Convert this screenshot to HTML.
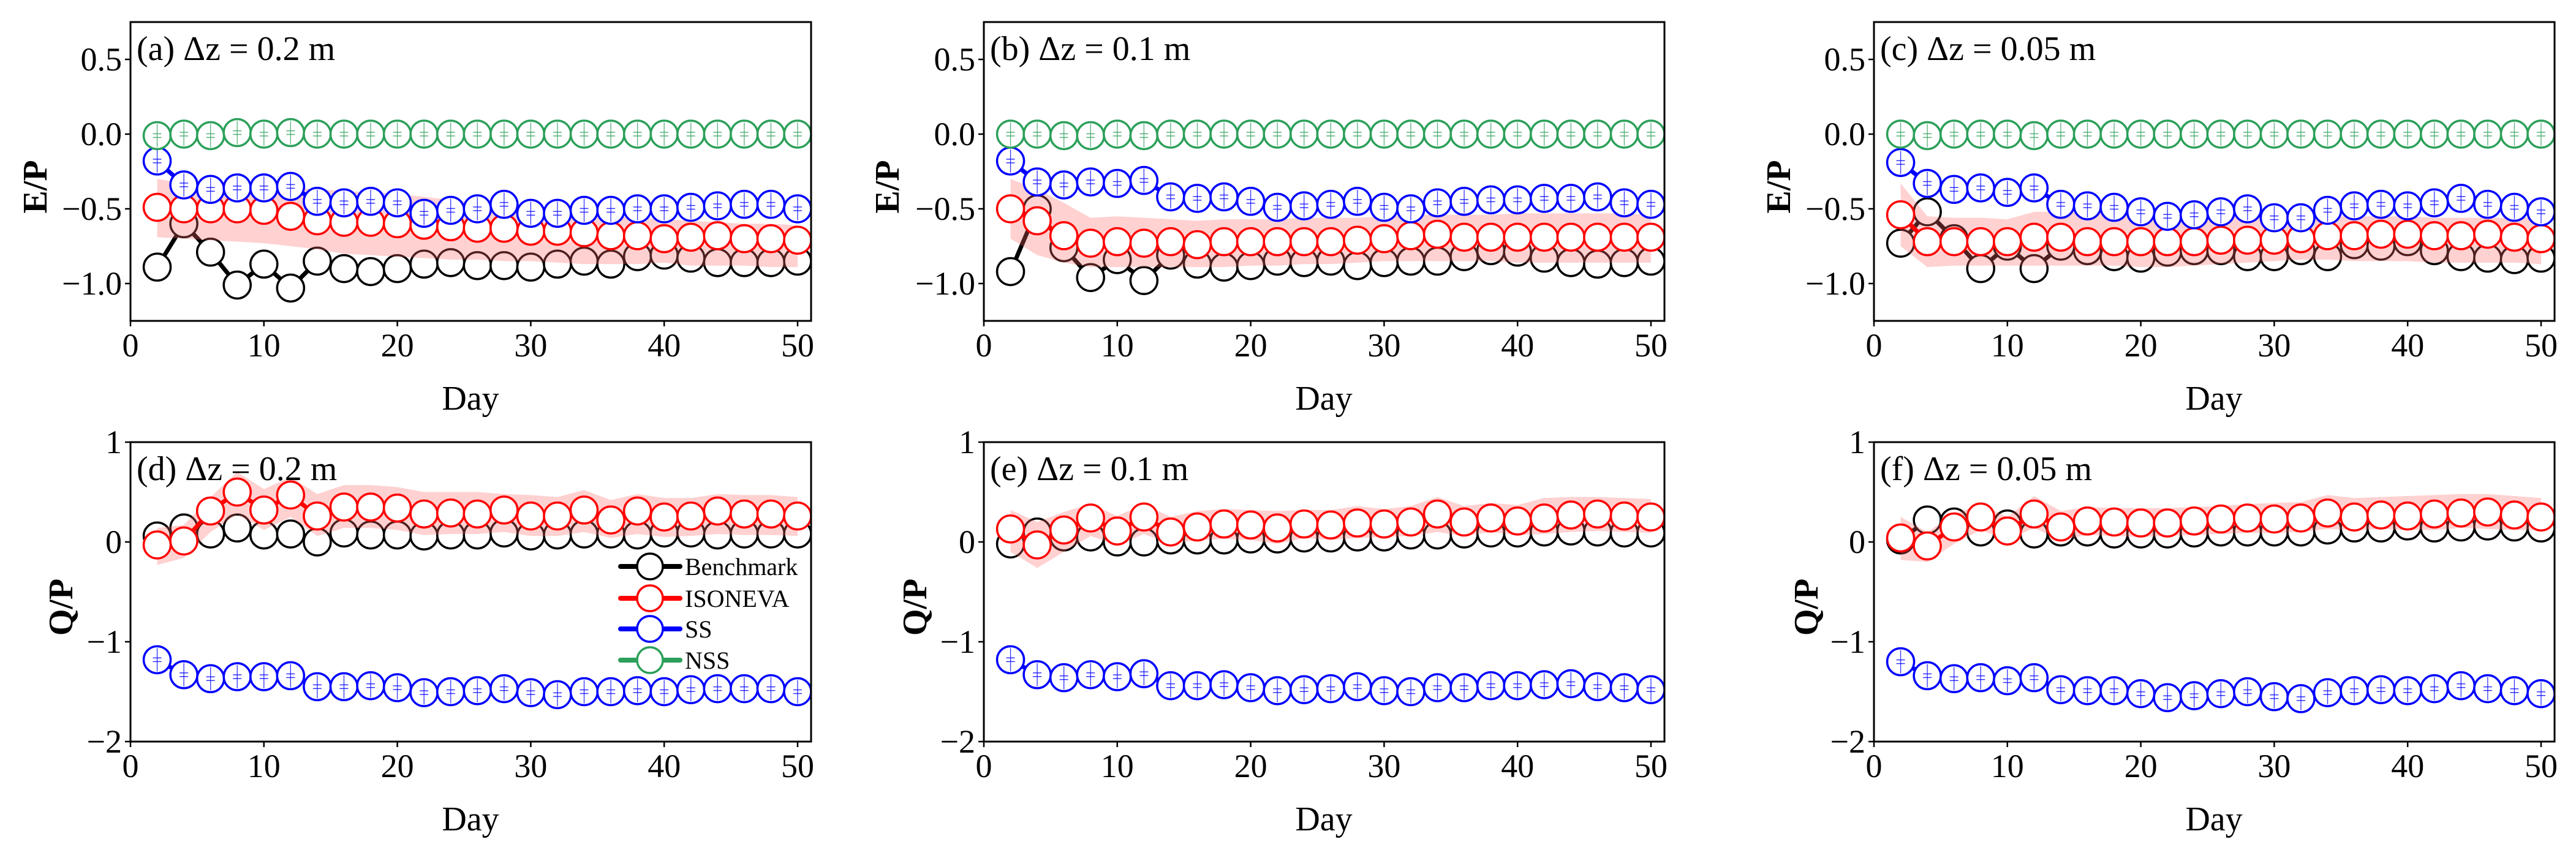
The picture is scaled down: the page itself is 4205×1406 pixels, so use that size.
<!DOCTYPE html>
<html><head><meta charset="utf-8">
<style>
html,body{margin:0;padding:0;background:#fff;}
svg, svg text{font-family:"Liberation Serif","DejaVu Serif","Times New Roman",serif;}
</style></head>
<body>
<svg id="fig" width="4205" height="1401" viewBox="0 0 4205 1401" xmlns="http://www.w3.org/2000/svg" font-family="Liberation Serif, DejaVu Serif, serif"></svg>
<script>
const days = [2,4,6,8,10,12,14,16,18,20,22,24,26,28,30,32,34,36,38,40,42,44,46,48,50];
const xTicks = [0,10,20,30,40,50];
const yTicksTop = [0.5,0.0,-0.5,-1.0];
const yTickLabelsTop = ["0.5","0.0","\u22120.5","\u22121.0"];
const yTicksBot = [1,0,-1,-2];
const yTickLabelsBot = ["1","0","\u22121","\u22122"];
const titles = ["(a) \u0394z = 0.2 m","(b) \u0394z = 0.1 m","(c) \u0394z = 0.05 m","(d) \u0394z = 0.2 m","(e) \u0394z = 0.1 m","(f) \u0394z = 0.05 m"];

// (a) E/P dz=0.2
const bmA = [-0.89,-0.60,-0.79,-1.01,-0.87,-1.03,-0.85,-0.90,-0.92,-0.90,-0.87,-0.86,-0.88,-0.88,-0.89,-0.87,-0.85,-0.87,-0.82,-0.81,-0.83,-0.86,-0.86,-0.86,-0.85];
const isoA = [-0.49,-0.50,-0.50,-0.50,-0.51,-0.55,-0.58,-0.59,-0.59,-0.60,-0.61,-0.62,-0.63,-0.63,-0.65,-0.65,-0.66,-0.68,-0.68,-0.70,-0.69,-0.68,-0.70,-0.70,-0.71];
const isoUpA = [-0.30,-0.33,-0.34,-0.35,-0.35,-0.36,-0.37,-0.38,-0.39,-0.40,-0.42,-0.44,-0.46,-0.48,-0.50,-0.52,-0.54,-0.55,-0.56,-0.57,-0.58,-0.59,-0.60,-0.60,-0.61];
const isoLoA = [-0.69,-0.70,-0.71,-0.72,-0.73,-0.75,-0.77,-0.80,-0.81,-0.82,-0.83,-0.84,-0.84,-0.85,-0.85,-0.86,-0.87,-0.87,-0.87,-0.86,-0.88,-0.88,-0.88,-0.89,-0.89];
const ssA = [-0.18,-0.34,-0.37,-0.36,-0.36,-0.35,-0.45,-0.46,-0.45,-0.46,-0.53,-0.51,-0.50,-0.47,-0.53,-0.53,-0.51,-0.51,-0.50,-0.50,-0.49,-0.48,-0.47,-0.47,-0.50];
const nssA = [-0.01,0.00,-0.01,0.01,0.00,0.01,0.00,0.00,0.00,0.00,0.00,0.00,0.00,0.00,0.00,0.00,0.00,0.00,0.00,0.00,0.00,0.00,0.00,0.00,0.00];
// (b) E/P dz=0.1
const bmB = [-0.92,-0.50,-0.76,-0.96,-0.84,-0.98,-0.81,-0.87,-0.89,-0.88,-0.85,-0.86,-0.85,-0.88,-0.86,-0.85,-0.85,-0.82,-0.78,-0.79,-0.83,-0.86,-0.87,-0.86,-0.85];
const isoB = [-0.50,-0.58,-0.68,-0.73,-0.72,-0.73,-0.72,-0.74,-0.72,-0.72,-0.72,-0.72,-0.72,-0.71,-0.70,-0.68,-0.67,-0.69,-0.69,-0.69,-0.69,-0.69,-0.69,-0.69,-0.69];
const isoUpB = [-0.30,-0.37,-0.46,-0.56,-0.55,-0.56,-0.57,-0.58,-0.57,-0.57,-0.57,-0.56,-0.56,-0.56,-0.55,-0.54,-0.54,-0.54,-0.54,-0.53,-0.53,-0.53,-0.53,-0.53,-0.54];
const isoLoB = [-0.70,-0.81,-0.86,-0.89,-0.89,-0.89,-0.89,-0.89,-0.89,-0.88,-0.88,-0.87,-0.87,-0.86,-0.85,-0.85,-0.85,-0.85,-0.85,-0.86,-0.86,-0.86,-0.86,-0.86,-0.86];
const ssB = [-0.18,-0.32,-0.34,-0.32,-0.33,-0.31,-0.42,-0.43,-0.42,-0.45,-0.49,-0.48,-0.47,-0.45,-0.49,-0.50,-0.46,-0.45,-0.44,-0.44,-0.43,-0.43,-0.42,-0.46,-0.47];
const nssB = [0.00,0.00,-0.01,-0.01,0.00,-0.01,0.00,0.00,0.00,0.00,0.00,0.00,0.00,0.00,0.00,0.00,0.00,0.00,0.00,0.00,0.00,0.00,0.00,0.00,0.00];
// (c) E/P dz=0.05
const bmC = [-0.73,-0.52,-0.70,-0.90,-0.75,-0.90,-0.75,-0.78,-0.82,-0.83,-0.79,-0.78,-0.78,-0.82,-0.82,-0.78,-0.82,-0.74,-0.75,-0.72,-0.78,-0.82,-0.83,-0.84,-0.83];
const isoC = [-0.54,-0.72,-0.72,-0.72,-0.72,-0.69,-0.69,-0.72,-0.72,-0.72,-0.72,-0.72,-0.71,-0.71,-0.71,-0.70,-0.68,-0.68,-0.67,-0.67,-0.68,-0.68,-0.67,-0.69,-0.70];
const isoUpC = [-0.33,-0.55,-0.56,-0.56,-0.57,-0.52,-0.52,-0.52,-0.52,-0.52,-0.53,-0.53,-0.53,-0.54,-0.55,-0.55,-0.55,-0.55,-0.55,-0.55,-0.56,-0.56,-0.56,-0.56,-0.56];
const isoLoC = [-0.75,-0.89,-0.88,-0.88,-0.88,-0.88,-0.88,-0.88,-0.88,-0.89,-0.89,-0.88,-0.87,-0.86,-0.85,-0.84,-0.84,-0.85,-0.85,-0.85,-0.86,-0.86,-0.86,-0.86,-0.87];
const ssC = [-0.19,-0.33,-0.37,-0.36,-0.39,-0.36,-0.47,-0.48,-0.49,-0.52,-0.55,-0.54,-0.52,-0.50,-0.56,-0.56,-0.51,-0.48,-0.47,-0.48,-0.46,-0.43,-0.47,-0.49,-0.52];
const nssC = [0.00,-0.01,0.00,0.00,0.00,-0.01,0.00,0.00,0.00,0.00,0.00,0.00,0.00,0.00,0.00,0.00,0.00,0.00,0.00,0.00,0.00,0.00,0.00,0.00,0.00];
// (d) Q/P dz=0.2
const bmD = [0.06,0.14,0.08,0.14,0.07,0.08,0.00,0.09,0.07,0.07,0.06,0.07,0.07,0.09,0.06,0.07,0.08,0.08,0.07,0.09,0.09,0.07,0.08,0.08,0.08];
const isoD = [-0.03,0.01,0.31,0.50,0.32,0.47,0.26,0.35,0.35,0.34,0.28,0.29,0.28,0.32,0.26,0.26,0.32,0.22,0.31,0.25,0.26,0.31,0.28,0.28,0.26];
const isoUpD = [0.14,0.17,0.45,0.70,0.53,0.65,0.48,0.57,0.57,0.55,0.50,0.50,0.50,0.48,0.47,0.45,0.52,0.42,0.48,0.44,0.44,0.48,0.47,0.47,0.45];
const isoLoD = [-0.23,-0.16,0.10,0.28,0.12,0.25,0.06,0.14,0.14,0.12,0.07,0.08,0.08,0.10,0.06,0.06,0.10,0.04,0.08,0.05,0.06,0.08,0.07,0.07,0.06];
const ssD = [-1.18,-1.33,-1.37,-1.35,-1.35,-1.34,-1.45,-1.45,-1.44,-1.46,-1.51,-1.50,-1.49,-1.47,-1.51,-1.53,-1.50,-1.50,-1.49,-1.50,-1.48,-1.47,-1.47,-1.47,-1.50];
// (e) Q/P dz=0.1
const bmE = [-0.02,0.10,0.05,0.05,0.00,0.00,0.02,0.02,0.02,0.03,0.03,0.04,0.04,0.05,0.05,0.07,0.07,0.08,0.09,0.09,0.10,0.11,0.10,0.09,0.09];
const isoE = [0.13,-0.03,0.12,0.24,0.11,0.25,0.10,0.15,0.18,0.17,0.14,0.18,0.17,0.19,0.18,0.20,0.28,0.20,0.24,0.21,0.24,0.27,0.28,0.26,0.25];
const isoUpE = [0.32,0.20,0.30,0.38,0.26,0.38,0.25,0.31,0.33,0.32,0.31,0.32,0.32,0.36,0.33,0.36,0.45,0.36,0.39,0.37,0.44,0.45,0.45,0.44,0.43];
const isoLoE = [-0.10,-0.26,-0.10,0.06,-0.03,0.08,-0.02,0.02,0.03,0.02,-0.02,0.04,0.02,0.04,0.05,0.06,0.10,0.06,0.10,0.07,0.08,0.10,0.11,0.10,0.09];
const ssE = [-1.18,-1.33,-1.36,-1.33,-1.35,-1.32,-1.44,-1.44,-1.43,-1.46,-1.49,-1.48,-1.47,-1.45,-1.49,-1.50,-1.46,-1.46,-1.44,-1.44,-1.43,-1.42,-1.45,-1.46,-1.48];
// (f) Q/P dz=0.05
const bmF = [0.02,0.22,0.20,0.10,0.18,0.08,0.10,0.10,0.08,0.08,0.08,0.09,0.10,0.10,0.10,0.10,0.12,0.14,0.14,0.16,0.14,0.15,0.16,0.15,0.14];
const isoF = [0.04,-0.04,0.15,0.25,0.11,0.28,0.15,0.21,0.20,0.19,0.19,0.21,0.23,0.24,0.23,0.24,0.29,0.25,0.27,0.26,0.28,0.29,0.30,0.27,0.25];
const isoUpF = [0.25,0.10,0.28,0.38,0.25,0.46,0.31,0.35,0.34,0.34,0.34,0.35,0.36,0.38,0.39,0.40,0.47,0.44,0.45,0.46,0.47,0.48,0.48,0.46,0.44];
const isoLoF = [-0.18,-0.20,-0.02,0.12,0.02,0.14,0.02,0.07,0.06,0.05,0.06,0.07,0.08,0.09,0.09,0.10,0.13,0.12,0.13,0.12,0.12,0.14,0.13,0.12,0.12];
const ssF = [-1.20,-1.34,-1.37,-1.36,-1.39,-1.36,-1.48,-1.49,-1.49,-1.52,-1.56,-1.54,-1.52,-1.50,-1.55,-1.57,-1.51,-1.49,-1.48,-1.49,-1.47,-1.44,-1.47,-1.49,-1.52];
const legendLabels = ["Benchmark","ISONEVA","SS","NSS"];

const NS = "http://www.w3.org/2000/svg";
const FONT = "Liberation Serif, DejaVu Serif, serif";
const svg = document.getElementById("fig");
function mk(tag, attrs, parent){
  const e = document.createElementNS(NS, tag);
  for (const k in attrs) e.setAttribute(k, attrs[k]);
  if (tag === "text") e.setAttribute("font-family", FONT);
  (parent||svg).appendChild(e);
  return e;
}
const C = {bm:"#000000", iso:"#ff0000", ss:"#0000ff", nss:"#2ca05a", band:"#ff6666"};
const colLeft = [213,1606,3059];
const W = 1111;
const rows = [{top:36,bot:524,ymin:-1.25,ymax:0.75,ticks:yTicksTop,labels:yTickLabelsTop,ylab:"E/P",ylabX:[58,1449,2904]},
              {top:722,bot:1211,ymin:-2,ymax:1,ticks:yTicksBot,labels:yTickLabelsBot,ylab:"Q/P",ylabX:[100,1494,2949]}];
const panels = [
  {r:0,c:0,bm:bmA,iso:isoA,up:isoUpA,lo:isoLoA,ss:ssA,nss:nssA},
  {r:0,c:1,bm:bmB,iso:isoB,up:isoUpB,lo:isoLoB,ss:ssB,nss:nssB},
  {r:0,c:2,bm:bmC,iso:isoC,up:isoUpC,lo:isoLoC,ss:ssC,nss:nssC},
  {r:1,c:0,bm:bmD,iso:isoD,up:isoUpD,lo:isoLoD,ss:ssD,nss:null},
  {r:1,c:1,bm:bmE,iso:isoE,up:isoUpE,lo:isoLoE,ss:ssE,nss:null},
  {r:1,c:2,bm:bmF,iso:isoF,up:isoUpF,lo:isoLoF,ss:ssF,nss:null}
];
const R = 22;

panels.forEach((p, idx) => {
  const row = rows[p.r];
  const L = colLeft[p.c], T = row.top, B = row.bot;
  const xs = v => L + v * (1089/50);
  const ys = v => T + (row.ymax - v) / (row.ymax - row.ymin) * (B - T);
  const g = mk("g", {});
  
  
  const clipId = "clip" + idx;
  const cp = mk("clipPath", {id:clipId}, g);
  mk("rect", {x:L, y:T, width:W, height:B-T}, cp);
  const plot = mk("g", {"clip-path":"url(#"+clipId+")"}, g);

  function series(vals, color, name, err){
    const sg = mk("g", {}, plot);
    
    
    const pts = vals.map((v,i)=>xs(days[i])+","+ys(v)).join(" ");
    mk("polyline", {points:pts, fill:"none", stroke:color, "stroke-width":7, "stroke-linejoin":"round"}, sg);
    vals.forEach((v,i)=>{
      const cx = xs(days[i]), cy = ys(v);
      const c = mk("circle", {cx:cx, cy:cy, r:R, fill:"#fff", stroke:color, "stroke-width":3.5}, sg);
      
      
      if (err){
        mk("line", {x1:cx, x2:cx, y1:cy-19, y2:cy+19, stroke:color, "stroke-width":1.3, opacity:0.8}, sg);
        mk("line", {x1:cx-7, x2:cx+7, y1:cy-3, y2:cy-3, stroke:color, "stroke-width":1.5, opacity:0.8}, sg);
        mk("line", {x1:cx-7, x2:cx+7, y1:cy+3, y2:cy+3, stroke:color, "stroke-width":1.5, opacity:0.8}, sg);
      }
    });
  }
  series(p.bm, C.bm, "benchmark-series", false);
  const top = p.up.map((v,i)=>xs(days[i])+","+ys(v));
  const bot = p.lo.map((v,i)=>xs(days[i])+","+ys(v)).reverse();
  const band = mk("polygon", {points:top.concat(bot).join(" "), fill:C.band, "fill-opacity":0.3, stroke:"none"}, plot);
  
  
  series(p.iso, C.iso, "isoneva-series", false);
  series(p.ss, C.ss, "ss-series", true);
  if (p.nss) series(p.nss, C.nss, "nss-series", true);

  const fr = mk("rect", {x:L, y:T, width:W, height:B-T, fill:"none", stroke:"#000", "stroke-width":3}, g);
  
  
  xTicks.forEach(t=>{
    const x = xs(t);
    mk("line", {x1:x, x2:x, y1:B, y2:B+9, stroke:"#000", "stroke-width":2.5}, g);
    const tx = mk("text", {x:x, y:B+58, "font-size":54, "text-anchor":"middle"}, g);
    tx.textContent = t;
    
    
  });
  row.ticks.forEach((t,i)=>{
    const y = ys(t);
    mk("line", {x1:L-9, x2:L, y1:y, y2:y, stroke:"#000", "stroke-width":2.5}, g);
    const tx = mk("text", {x:L-14, y:y+18, "font-size":54, "text-anchor":"end"}, g);
    tx.textContent = row.labels[i];
    
    
  });
  const xl = mk("text", {x:L+555, y:B+145, "font-size":56, "text-anchor":"middle"}, g);
  xl.textContent = "Day";
  
  
  const yx = row.ylabX[p.c], yc = (T+B)/2 + 25;
  const yl = mk("text", {x:yx, y:yc, "font-size":56, "font-weight":"bold", "text-anchor":"middle", transform:"rotate(-90 "+yx+" "+yc+")", "dominant-baseline":"central"}, g);
  yl.textContent = row.ylab;
  
  
  const tt = mk("text", {x:L+10, y:T+62, "font-size":56}, g);
  tt.textContent = titles[idx];
  
  
});

const lg = mk("g", {});


const legColors = [C.bm, C.iso, C.ss, C.nss];
const legY = [925,977,1027,1078];
legendLabels.forEach((lab,i)=>{
  const eg = mk("g", {}, lg);
  
  
  const y = legY[i];
  mk("line", {x1:1013, x2:1110, y1:y, y2:y, stroke:legColors[i], "stroke-width":8, "stroke-linecap":"round"}, eg);
  mk("circle", {cx:1061, cy:y, r:21, fill:"#fff", stroke:legColors[i], "stroke-width":3.5}, eg);
  const t = mk("text", {x:1118, y:y+14, "font-size":40}, eg);
  t.textContent = lab;
});
</script>
</body></html>
